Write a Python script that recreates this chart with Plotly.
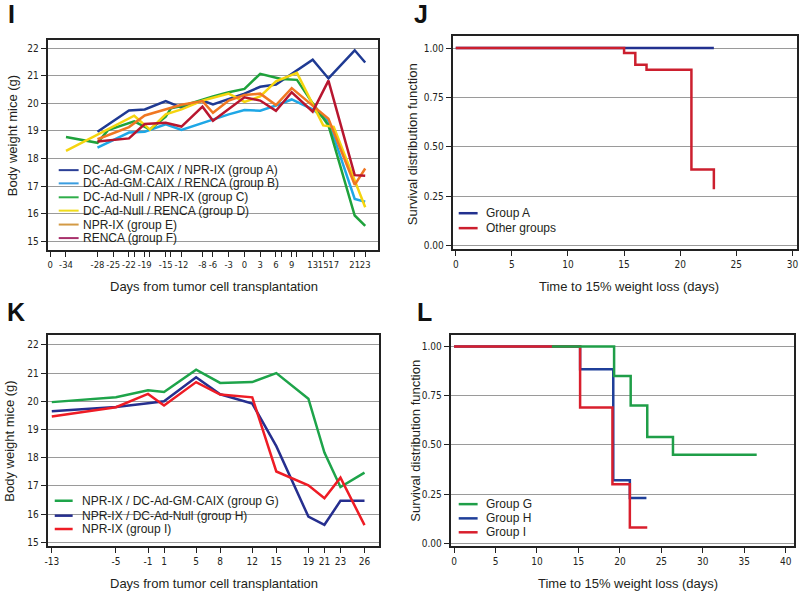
import plotly.graph_objects as go

W, H = 800, 593

# ---------------- Panel I data (body weight, g) ----------------
i_names = ["DC-Ad-GM·CAIX / NPR-IX (group A)", "DC-Ad-GM·CAIX / RENCA (group B)",
           "DC-Ad-Null / NPR-IX (group C)", "DC-Ad-Null / RENCA (group D)",
           "NPR-IX (group E)", "RENCA (group F)"]
i_colors = ["#1f3a93", "#1ea7e6", "#1fa23c", "#f5d40f", "#f07722", "#b8162f"]
i_legend_colors = ["#2b3f96", "#3a9de0", "#2fae4a", "#f0dc1c", "#d39a45", "#a8306b"]

days_A = [-28, -22, -19, -15, -12, -8, -6, -3, 0, 3, 6, 13, 16, 21, 23]
wt_A = [18.97, 19.74, 19.78, 20.08, 19.84, 20.10, 19.96, 20.15, 20.35, 20.60, 20.68, 21.58, 20.90, 21.92, 21.48]
days_B = [-28, -22, -19, -15, -12, -8, -6, -3, 0, 3, 6, 9, 13, 16, 21, 23]
wt_B = [18.40, 18.94, 18.97, 19.24, 19.04, 19.30, 19.42, 19.60, 19.76, 19.73, 19.92, 20.14, 19.78, 19.36, 16.54, 16.44]
days_C = [-34, -28, -26, -21, -18, -15, -14, -12, -8, -6, -3, 0, 3, 7, 10, 13, 16, 21, 23]
wt_C = [18.78, 18.57, 19.03, 19.35, 19.05, 19.52, 19.82, 19.90, 20.13, 20.25, 20.40, 20.52, 21.07, 20.88, 20.85, 20.00, 19.20, 15.94, 15.56]
days_D = [-34, -21, -18, -15, -12, -8, -6, -3, 0, 3, 6, 10, 15, 17, 23]
wt_D = [18.28, 19.55, 19.05, 19.60, 19.78, 20.10, 20.20, 20.35, 20.05, 20.25, 20.80, 21.10, 19.20, 19.15, 16.24]
days_E = [-28, -22, -19, -15, -12, -8, -6, -3, 0, 3, 6, 9, 13, 16, 21, 23]
wt_E = [18.70, 19.14, 19.56, 19.78, 19.95, 20.08, 19.66, 20.10, 20.30, 20.35, 19.94, 20.55, 19.90, 19.44, 17.05, 17.64]
days_F = [-28, -22, -19, -15, -12, -8, -6, -3, 0, 3, 6, 9, 13, 16, 21, 23]
wt_F = [18.62, 18.73, 19.25, 19.30, 19.16, 19.88, 19.37, 19.80, 20.22, 20.10, 19.73, 20.40, 19.70, 20.82, 17.40, 17.38]
i_days = [days_A, days_B, days_C, days_D, days_E, days_F]
i_wts = [wt_A, wt_B, wt_C, wt_D, wt_E, wt_F]

i_tickvals = [-37, -34, -28, -25, -22, -21, -19, -18, -15, -14, -12, -8, -6, -3, 0, 3, 6, 7, 9, 10, 13, 15, 17, 21, 23]
i_ticktext = ["0", "-34", "-28", "-25", "-22", "", "-19", "", "-15", "", "-12", "-8", "-6", "-3", "0", "3", "6", "", "9", "", "13", "15", "17", "21", "23"]
i_yticks = [15, 16, 17, 18, 19, 20, 21, 22]

# ---------------- Panel J data (Kaplan-Meier) ----------------
j_names = ["Group A", "Other groups"]
j_colors = ["#22318f", "#cc1f2e"]
j_time_A = [0, 23]
j_surv_A = [1.0, 1.0]
j_time_O = [0, 15, 16, 17, 21, 23]
j_surv_O = [1.0, 0.975, 0.915, 0.89, 0.385, 0.285]
km_yticks = [0, 0.25, 0.5, 0.75, 1.0]
j_xticks = [0, 5, 10, 15, 20, 25, 30]

# ---------------- Panel K data (body weight, g) ----------------
k_names = ["NPR-IX / DC-Ad-GM·CAIX (group G)", "NPR-IX / DC-Ad-Null (group H)", "NPR-IX (group I)"]
k_colors = ["#1ea44a", "#262f8f", "#ee1c25"]
k_days_G = [-13, -5, -1, 1, 5, 8, 12, 15, 19, 21, 23, 26]
k_wt_G = [19.97, 20.14, 20.39, 20.33, 21.12, 20.65, 20.68, 21.00, 20.09, 18.18, 16.96, 17.47]
k_days_H = [-13, -5, -1, 1, 5, 8, 12, 15, 19, 21, 23, 26]
k_wt_H = [19.65, 19.80, 19.93, 20.00, 20.85, 20.25, 19.92, 18.41, 15.91, 15.62, 16.47, 16.47]
k_days_I = [-13, -5, -1, 1, 5, 8, 12, 15, 19, 21, 23, 26]
k_wt_I = [19.46, 19.79, 20.26, 19.85, 20.68, 20.24, 20.14, 17.51, 17.02, 16.56, 17.29, 15.61]
k_tickvals = [-13, -5, -1, 1, 5, 8, 12, 15, 19, 21, 23, 26]
k_ticktext = ["-13", "-5", "-1", "1", "5", "8", "12", "15", "19", "21", "23", "26"]

# ---------------- Panel L data (Kaplan-Meier) ----------------
l_names = ["Group G", "Group H", "Group I"]
l_colors = ["#1f9e48", "#1f3f99", "#d91f2d"]
l_time_G = [11.8, 19.3, 21.3, 23.3, 26.4, 36.5]
l_surv_G = [1.0, 0.85, 0.70, 0.54, 0.45, 0.45]
l_time_H = [0, 15.2, 19.2, 21.2, 23.2]
l_surv_H = [1.0, 0.885, 0.32, 0.23, 0.23]
l_time_I = [0, 15.2, 19.1, 21.2, 23.3]
l_surv_I = [1.0, 0.69, 0.30, 0.08, 0.08]
l_xticks = [0, 5, 10, 15, 20, 25, 30, 35, 40]

# ---------------- layout helpers ----------------
def fx(p):
    return p / W

def fy(p):
    return 1 - p / H

TXT = "Liberation Sans, Arial, sans-serif"
NARROW = "Liberation Sans Narrow, DejaVu Sans Condensed, Arial Narrow, Liberation Sans, sans-serif"
INK = "#231f20"

boxes = {  # left, right, top, bottom in pixels
    1: (45, 377, 40, 251),
    2: (452, 798, 36, 250),
    3: (45, 378, 337, 549),
    4: (450, 795, 337, 549),
}
ranges = {
    1: ([-37.47, 25.46], [14.70, 22.30]),
    2: ([-0.27, 30.41], [-0.0166, 1.062]),
    3: ([-13.5, 27.82], [14.86, 22.34]),
    4: ([-0.4, 41.0], [-0.015, 1.057]),
}

fig = go.Figure()

# Panel I traces
for name, col, d, w in zip(i_names, i_colors, i_days, i_wts):
    fig.add_trace(go.Scatter(x=d, y=w, mode="lines", name=name, showlegend=False,
                             line=dict(color=col, width=2.5), xaxis="x", yaxis="y"))

# Panel J traces
fig.add_trace(go.Scatter(x=j_time_A, y=j_surv_A, mode="lines", name=j_names[0], showlegend=False,
                         line=dict(color=j_colors[0], width=2.5, shape="hv"), xaxis="x2", yaxis="y2"))
fig.add_trace(go.Scatter(x=j_time_O, y=j_surv_O, mode="lines", name=j_names[1], showlegend=False,
                         line=dict(color=j_colors[1], width=2.5, shape="hv"), xaxis="x2", yaxis="y2"))

# Panel K traces
for name, col, d, w in zip(k_names, k_colors, [k_days_G, k_days_H, k_days_I], [k_wt_G, k_wt_H, k_wt_I]):
    fig.add_trace(go.Scatter(x=d, y=w, mode="lines", name=name, showlegend=False,
                             line=dict(color=col, width=2.5), xaxis="x3", yaxis="y3"))

# Panel L traces (H, I, then G on top)
for idx, t, s in [(1, l_time_H, l_surv_H), (2, l_time_I, l_surv_I), (0, l_time_G, l_surv_G)]:
    fig.add_trace(go.Scatter(x=t, y=s, mode="lines", name=l_names[idx], showlegend=False,
                             line=dict(color=l_colors[idx], width=2.5, shape="hv"), xaxis="x4", yaxis="y4"))

# Axes
axis_common = dict(showline=True, mirror=True, linecolor="#222", linewidth=2,
                   ticks="outside", ticklen=5, tickwidth=1.3, tickcolor="#222",
                   zeroline=False, tickangle=0,
                   tickfont=dict(family=NARROW, size=10, color=INK))
layout_axes = {}
for k in range(1, 5):
    l, r, t, b = boxes[k]
    xr, yr = ranges[k]
    sfx = "" if k == 1 else str(k)
    xa = dict(axis_common, domain=[fx(l), fx(r)], range=xr, showgrid=False,
              anchor="y" + sfx)
    ya = dict(axis_common, domain=[fy(b), fy(t)], range=yr, showgrid=True,
              gridcolor="#9a9a9a", gridwidth=1, anchor="x" + sfx)
    layout_axes["xaxis" + sfx] = xa
    layout_axes["yaxis" + sfx] = ya

layout_axes["xaxis"].update(tickmode="array", tickvals=i_tickvals, ticktext=i_ticktext,
                            tickfont=dict(family=NARROW, size=9.4, color=INK))
layout_axes["yaxis"].update(tickmode="array", tickvals=i_yticks)
layout_axes["xaxis2"].update(tickmode="array", tickvals=j_xticks)
layout_axes["yaxis2"].update(tickmode="array", tickvals=km_yticks, tickformat=".2f")
layout_axes["xaxis3"].update(tickmode="array", tickvals=k_tickvals, ticktext=k_ticktext)
layout_axes["yaxis3"].update(tickmode="array", tickvals=i_yticks)
layout_axes["xaxis4"].update(tickmode="array", tickvals=l_xticks)
layout_axes["yaxis4"].update(tickmode="array", tickvals=km_yticks, tickformat=".2f")

annotations = []
shapes = []

# Panel letters
for letter, xp, yp in [("I", 3, 14), ("J", 411, 14), ("K", 2, 314), ("L", 414, 314)]:
    annotations.append(dict(text="<b>%s</b>" % letter, x=fx(xp), y=fy(yp), xref="paper", yref="paper",
                            xanchor="left", yanchor="middle", showarrow=False,
                            font=dict(family=TXT, size=25, color="#111")))

# Axis titles
def xtitle(text, xc, yc):
    annotations.append(dict(text=text, x=fx(xc), y=fy(yc), xref="paper", yref="paper",
                            xanchor="center", yanchor="middle", showarrow=False,
                            font=dict(family=TXT, size=13, color=INK)))

def ytitle(text, xc, yc):
    annotations.append(dict(text=text, x=fx(xc), y=fy(yc), xref="paper", yref="paper",
                            xanchor="center", yanchor="middle", showarrow=False, textangle=-90,
                            font=dict(family=TXT, size=13, color=INK)))

xtitle("Days from tumor cell transplantation", 212, 288)
ytitle("Body weight mice (g)", 9, 136)
xtitle("Time to 15% weight loss (days)", 629, 288)
ytitle("Survival distribution function", 411, 145)
xtitle("Days from tumor cell transplantation", 212, 586)
ytitle("Body weight mice (g)", 7, 443)
xtitle("Time to 15% weight loss (days)", 628, 586)
ytitle("Survival distribution function", 415, 443)

# Manual legends
def legend(names, colors, x0, x1, xt, rows, bg_ends=None, lw=2):
    for i, (nm, col, yr) in enumerate(zip(names, colors, rows)):
        if bg_ends is not None:
            shapes.append(dict(type="rect", xref="paper", yref="paper", layer="between",
                               x0=fx(x0 - 10), x1=fx(bg_ends[i]), y0=fy(yr + 7), y1=fy(yr - 7),
                               fillcolor="white", line=dict(width=0)))
        shapes.append(dict(type="line", xref="paper", yref="paper", layer="above",
                           x0=fx(x0), x1=fx(x1), y0=fy(yr), y1=fy(yr),
                           line=dict(color=col, width=lw)))
        annotations.append(dict(text=nm, x=fx(xt), y=fy(yr), xref="paper", yref="paper",
                                xanchor="left", yanchor="middle", showarrow=False,
                                font=dict(family=TXT, size=12, color=INK)))

legend(i_names, i_legend_colors, 56, 76, 78, [171, 184.3, 198.3, 211.7, 225.7, 239.3],
       bg_ends=[277, 279, 249, 251, 177, 179], lw=2)
legend(j_names, j_colors, 458, 477, 483, [214.3, 229.3], lw=2.5)
legend(k_names, k_colors, 52, 70, 77, [503.3, 518.3, 531.7], bg_ends=[276, 250, 170], lw=2.5)
legend(l_names, l_colors, 458, 477, 483, [506.7, 521, 535], lw=2.5)

fig.update_layout(width=W, height=H, margin=dict(l=0, r=0, t=0, b=0),
                  paper_bgcolor="white", plot_bgcolor="white", showlegend=False,
                  font=dict(family=TXT, color=INK),
                  annotations=annotations, shapes=shapes, **layout_axes)

fig.write_html("out.html", config={"displayModeBar": False},
               post_script="document.body.style.margin='0';document.body.style.overflow='hidden';")
